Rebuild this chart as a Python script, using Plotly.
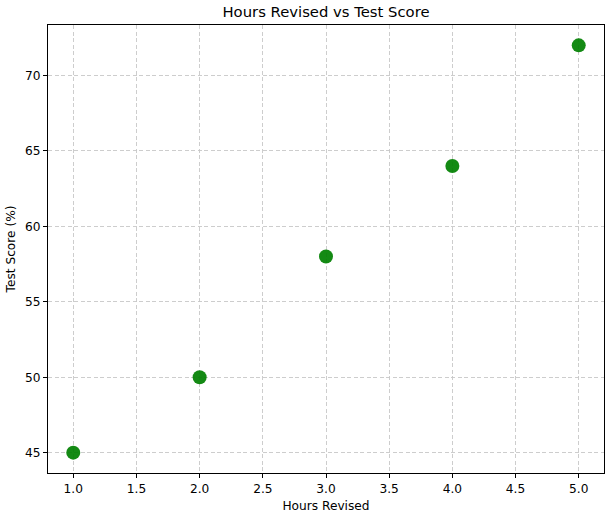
import plotly.graph_objects as go

hours = [1, 2, 3, 4, 5]
scores = [45, 50, 58, 64, 72]

fig = go.Figure()
fig.add_trace(go.Scatter(
    x=hours, y=scores, mode="markers",
    marker=dict(color="green", size=14, opacity=0.92, line=dict(width=0)),
))

axis_common = dict(
    showline=True, linecolor="black", linewidth=1, mirror=True,
    ticks="outside", ticklen=4, tickcolor="black",
    showgrid=True, gridcolor="rgba(200,200,200,0.9)", griddash="4px,2.5px", gridwidth=1,
    zeroline=False, automargin=False,
    tickfont=dict(family="DejaVu Sans", size=12.2, color="black"),
)

fig.update_layout(
    width=613, height=521,
    margin=dict(l=48, r=9, t=25, b=48, autoexpand=False),
    paper_bgcolor="white", plot_bgcolor="white",
    title=dict(text="Hours Revised vs Test Score", x=0.5, xref="paper",
               yref="container", y=1 - 17 / 521, yanchor="bottom",
               font=dict(family="DejaVu Sans", size=14.8, color="black"), automargin=False),
    xaxis=dict(range=[0.8, 5.2], tickvals=[1.0, 1.5, 2.0, 2.5, 3.0, 3.5, 4.0, 4.5, 5.0],
               ticktext=["1.0", "1.5", "2.0", "2.5", "3.0", "3.5", "4.0", "4.5", "5.0"],
               title=dict(text="Hours Revised", font=dict(family="DejaVu Sans", size=12.2, color="black"), standoff=6),
               **axis_common),
    yaxis=dict(range=[43.65, 73.35], tickvals=[45, 50, 55, 60, 65, 70],
               title=dict(text="Test Score (%)", font=dict(family="DejaVu Sans", size=12.2, color="black"), standoff=6),
               **axis_common),
    showlegend=False,
)

fig.write_html("out.html", config={"displayModeBar": False},
               post_script="document.body.style.margin='0';")
